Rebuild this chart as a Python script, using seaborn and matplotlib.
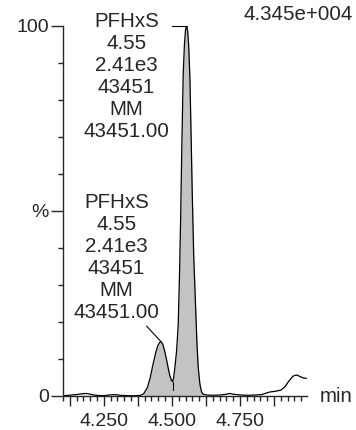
import seaborn as sns
import matplotlib.pyplot as plt
import matplotlib.ticker as mticker
import numpy as np
import pandas as pd

# chromatogram trace (retention time in min, relative intensity in %)
times = [4.100, 4.120, 4.150, 4.170, 4.185, 4.200, 4.220, 4.250, 4.270, 4.290,
         4.310, 4.340, 4.370, 4.385, 4.396, 4.410, 4.420, 4.431, 4.440, 4.448,
         4.455, 4.460, 4.466, 4.472, 4.479, 4.486, 4.492, 4.498, 4.5025, 4.506,
         4.510, 4.517, 4.523, 4.528, 4.532, 4.537, 4.5415, 4.546, 4.550, 4.554,
         4.558, 4.562, 4.566, 4.570, 4.5746, 4.580, 4.587, 4.592, 4.5967, 4.603,
         4.609, 4.615, 4.625, 4.650, 4.680, 4.700, 4.713, 4.725, 4.750, 4.780,
         4.810, 4.830, 4.842, 4.860, 4.880, 4.900, 4.915, 4.930, 4.945, 4.958,
         4.970, 4.982, 4.994]
intensity = [0.0, 0.1, 0.3, 0.5, 0.6, 0.4, 0.1, 0.0, 0.2, 0.3,
             0.1, 0.0, 0.0, 0.1, 0.5, 2.2, 4.8, 8.6, 11.5, 13.5,
             14.4, 14.6, 14.0, 12.5, 10.2, 7.6, 5.5, 4.2, 3.8, 4.8,
             7.0, 12.0, 19.0, 33.0, 48.0, 70.0, 87.0, 95.0, 99.0, 100.0,
             98.5, 94.0, 86.0, 72.0, 55.0, 38.0, 24.0, 14.0, 7.5, 3.0,
             1.0, 0.4, 0.2, 0.1, 0.2, 0.4, 0.6, 0.4, 0.2, 0.1,
             0.2, 0.3, 0.6, 1.0, 1.2, 1.5, 2.4, 4.0, 5.3, 5.6,
             5.2, 4.8, 4.7]

peak_label = ["PFHxS", "4.55", "2.41e3", "43451", "MM", "43451.00"]
integ_start, integ_end = 4.396, 4.615
max_count = "4.345e+004"

df = pd.DataFrame({"time": times, "pct": intensity})

sns.set_style('ticks')
plt.rcParams['font.family'] = ['Liberation Sans', 'DejaVu Sans']

fig = plt.figure(figsize=(3.56, 4.30), dpi=100)
ax = fig.add_axes([0.177, 0.0798, 0.6845, 0.8604])

t = np.array(times)
y = np.array(intensity)
mask = (t >= integ_start) & (t <= integ_end)
ax.fill_between(t, y, where=mask, color='#c3c3c3', linewidth=0)
sns.lineplot(data=df, x="time", y="pct", ax=ax, color='black', lw=0.9,
             estimator=None, sort=False)

# valley drop line between the two integrated peaks
vi = np.argmin(np.where((t > 4.47) & (t < 4.53), y, 1e9))
ax.plot([t[vi], t[vi]], [y[vi], 1.5], color='black', lw=0.8)

ax.set_xlim(4.10, 4.995)
ax.set_ylim(0, 100)
ax.set_xlabel("")
ax.set_ylabel("")

ax.xaxis.set_major_locator(mticker.MultipleLocator(0.125))
ax.xaxis.set_minor_locator(mticker.MultipleLocator(0.025))
ax.xaxis.set_major_formatter(mticker.FuncFormatter(
    lambda v, p: "%.3f" % v if abs(v / 0.25 - round(v / 0.25)) < 1e-6 else ""))
ax.set_yticks([0, 50, 100])
ax.set_yticklabels(["0", "%", "100"])
ax.yaxis.set_minor_locator(mticker.MultipleLocator(10))
ax.tick_params(axis='x', which='major', length=7.2, width=1.0, labelsize=14, pad=5)
ax.tick_params(axis='x', which='minor', length=3.6, width=1.0)
ax.tick_params(axis='y', which='major', length=9, width=1.0, labelsize=14, pad=1)
ax.tick_params(axis='y', which='minor', length=3.6, width=1.0)
for s in ['top', 'right']:
    ax.spines[s].set_visible(False)
for s in ['left', 'bottom']:
    ax.spines[s].set_linewidth(1.0)

# peak annotations
pk = int(np.argmax(y))
ax.text(4.3335, 86.2, "\n".join(peak_label), ha='center', va='center',
        fontsize=14.8, clip_on=False)
ax.plot([4.502, t[pk]], [y[pk], y[pk]], color='black', lw=0.8, clip_on=False)

sp = int(np.argmax(np.where(t < 4.5, y, -1)))
ax.text(4.2967, 37.4, "\n".join(peak_label), ha='center', va='center',
        fontsize=14.8)
ax.plot([4.407, t[sp]], [18.8, y[sp]], color='black', lw=0.8)

fig.text(0.992, 1 - 15 / 430, max_count, ha='right', va='center', fontsize=14.8)
fig.text(320 / 356, 1 - 397 / 430, "min", ha='left', va='center', fontsize=14.8)

fig.savefig("out.png", dpi=100)
